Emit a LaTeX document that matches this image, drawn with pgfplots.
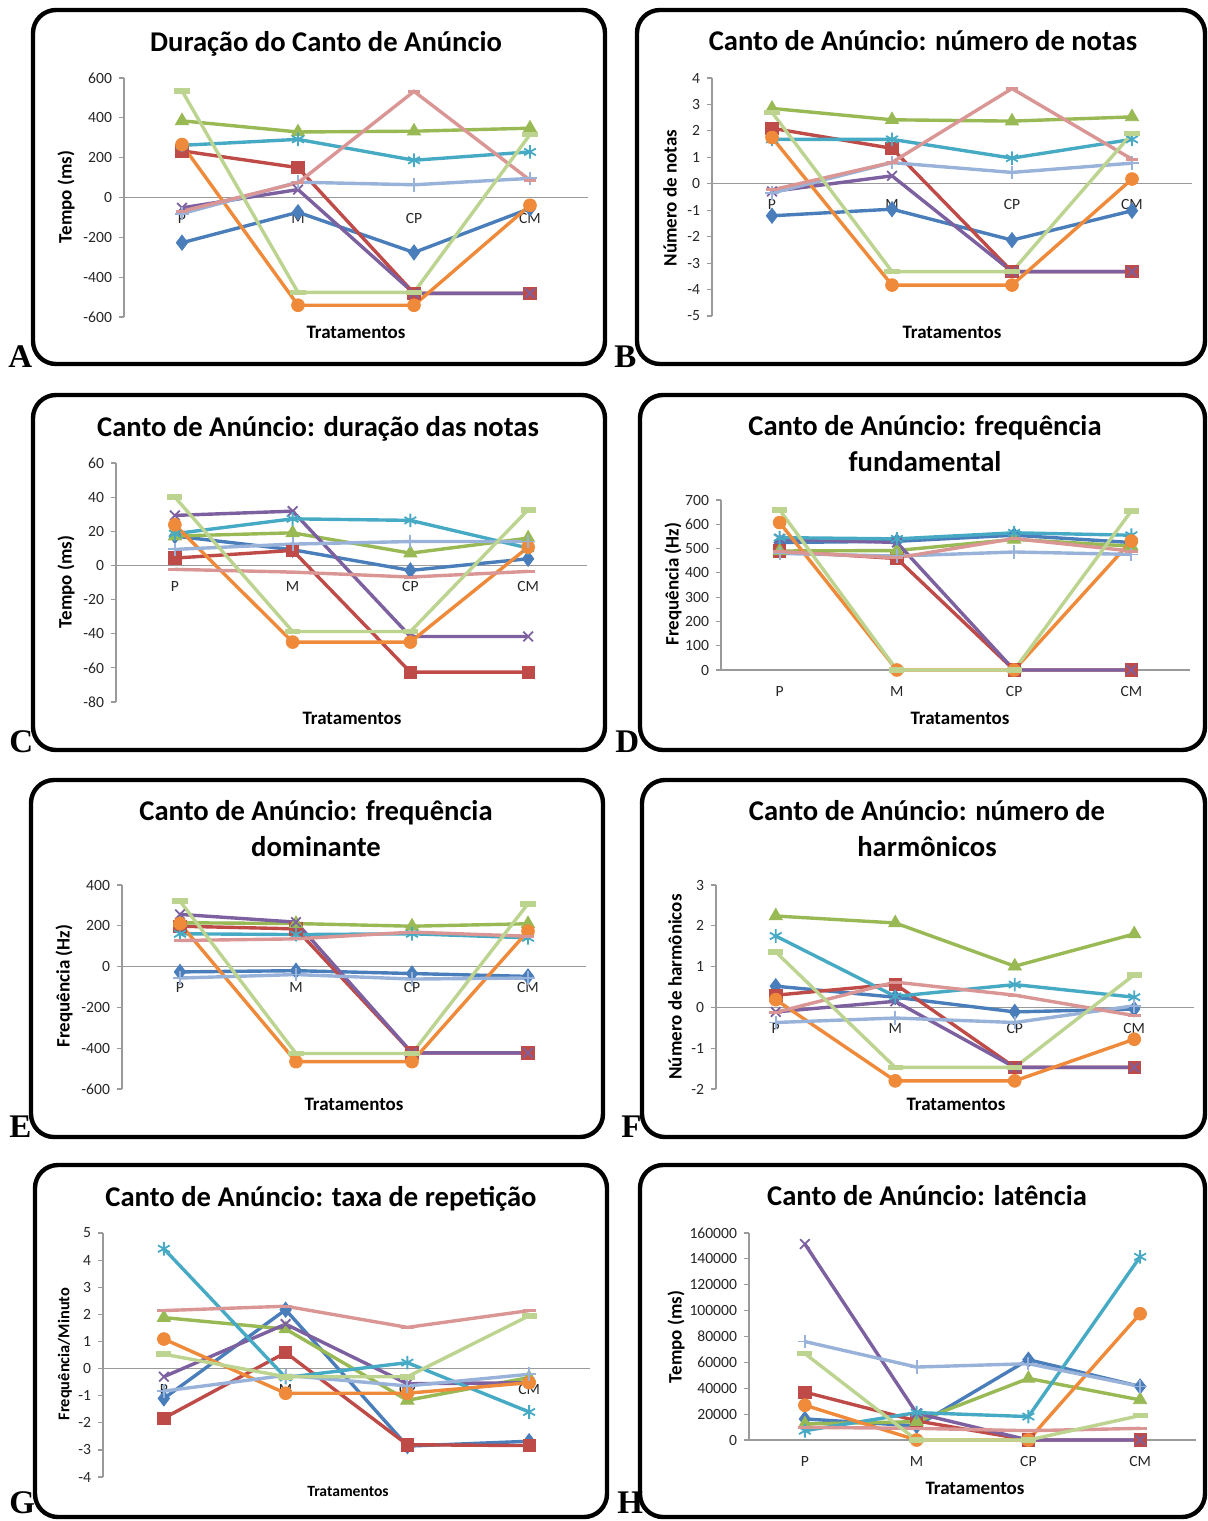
\documentclass[border=0pt]{standalone}
\usepackage{fontspec}
\setmainfont{Carlito}
\newfontfamily\letterfont{Liberation Serif}
\usepackage{pgfplots}
\usepackage{pgfplotstable}
\pgfplotsset{compat=1.18}

\definecolor{c1}{HTML}{4A7EBB}
\definecolor{c2}{HTML}{BE4B48}
\definecolor{c3}{HTML}{98B954}
\definecolor{c4}{HTML}{7D60A0}
\definecolor{c5}{HTML}{46AAC5}
\definecolor{c6}{HTML}{EE8A3A}
\definecolor{c7}{HTML}{98B2D9}
\definecolor{c8}{HTML}{D99694}
\definecolor{c9}{HTML}{BCD490}
\definecolor{axgray}{HTML}{9A9A9A}

\pgfplotstableread{
x s1 s2 s3 s4 s5 s6 s7 s8 s9
0 -227 234 385 -52 262 266 -81 -69 536
1 -74 150 329 40 292 -541 77 74 -476
2 -276 -481 333 -481 187 -541 64 533 -476
3 -55 -481 348 -481 229 -39 96 87 316
}\tabA
\pgfplotstableread{
x s1 s2 s3 s4 s5 s6 s7 s8 s9
0 -1.21 2.10 2.85 -0.29 1.68 1.75 -0.35 -0.23 2.70
1 -0.96 1.34 2.42 0.30 1.68 -3.83 0.80 0.81 -3.32
2 -2.13 -3.32 2.37 -3.32 0.97 -3.83 0.43 3.60 -3.32
3 -1.02 -3.32 2.53 -3.32 1.68 0.18 0.78 0.93 1.90
}\tabB
\pgfplotstableread{
x s1 s2 s3 s4 s5 s6 s7 s8 s9
0 17.2 4.3 17.2 29.3 18.6 23.8 9.4 -2.3 40
1 9.2 8.8 19.1 31.8 27.3 -44.9 12.5 -3.9 -38.7
2 -2.9 -62.5 7.2 -41.6 26.4 -44.9 14 -6.8 -38.7
3 3.9 -62.5 16 -41.6 10.2 10.7 14 -3.5 32.6
}\tabC
\pgfplotstableread{
x s1 s2 s3 s4 s5 s6 s7 s8 s9
0 525 490 490 540 545 607 480 487 659
1 530 459 492 525 540 0 469 462 0
2 555 0 538 0 565 0 486 541 0
3 525 0 510 0 555 531 476 490 655
}\tabD
\pgfplotstableread{
x s1 s2 s3 s4 s5 s6 s7 s8 s9
0 -26 198 215 256 161 211 -56 128 321
1 -20 185 211 218 157 -466 -39 136 -426
2 -34 -423 198 -423 161 -466 -61 169 -426
3 -48 -423 210 -423 141 174 -56 149 308
}\tabE
\pgfplotstableread{
x s1 s2 s3 s4 s5 s6 s7 s8 s9
0 0.52 0.30 2.24 -0.11 1.75 0.19 -0.37 -0.12 1.36
1 0.25 0.57 2.07 0.15 0.27 -1.80 -0.26 0.62 -1.47
2 -0.11 -1.47 1.01 -1.47 0.56 -1.80 -0.37 0.30 -1.47
3 -0.04 -1.47 1.80 -1.47 0.25 -0.78 0.04 -0.20 0.80
}\tabF
\pgfplotstableread{
x s1 s2 s3 s4 s5 s6 s7 s8 s9
0 -1.10 -1.83 1.88 -0.30 4.42 1.09 -0.83 2.14 0.53
1 2.17 0.59 1.46 1.64 -0.33 -0.91 -0.25 2.30 -0.30
2 -2.86 -2.81 -1.17 -0.56 0.22 -0.91 -0.64 1.52 -0.30
3 -2.68 -2.84 -0.33 -0.52 -1.60 -0.52 -0.21 2.14 1.95
}\tabG
\pgfplotstableread{
x s1 s2 s3 s4 s5 s6 s7 s8 s9
0 16300 37000 12400 151500 7200 26900 76100 9800 66800
1 10900 14800 14200 20700 21200 0 56400 9000 0
2 62100 0 47600 0 18100 0 59000 7200 0
3 41400 0 31000 0 141600 97600 41400 9000 18900
}\tabH

\pgfplotsset{
  s1/.style={c1, line width=1.7pt, mark=diamond*, mark size=3.8pt, mark options={solid, line width=0.4pt}},
  s2/.style={c2, line width=1.7pt, mark=square*, mark size=3.1pt, mark options={solid, line width=0.4pt}},
  s3/.style={c3, line width=1.7pt, mark=triangle*, mark size=3.8pt, mark options={solid, line width=0.4pt}},
  s4/.style={c4, line width=1.7pt, mark=x, mark size=3.4pt, mark options={solid, line width=0.9pt}},
  s5/.style={c5, line width=1.7pt, mark=asterisk, mark size=3.4pt, mark options={solid, line width=0.9pt}},
  s6/.style={c6, line width=1.7pt, mark=*, mark size=3.2pt, mark options={solid, line width=0.4pt}},
  s7/.style={c7, line width=1.7pt, mark=+, mark size=3.4pt, mark options={solid, line width=0.9pt}},
  s8/.style={c8, line width=1.7pt, mark=-, mark size=3.2pt, mark options={solid, line width=1.5pt}},
  s9/.style={c9, line width=1.7pt, mark=-, mark size=3.8pt, mark options={solid, line width=2.8pt}},
  excel/.style={
    scale only axis, anchor=south west,
    xmin=-0.5, xmax=3.5,
    xtick={0,1,2,3}, xticklabels={P,M,CP,CM},
    axis x line=middle, axis y line=left,
    axis line style={-, draw=axgray, line width=0.6pt},
    tick align=outside,
    x tick style={draw=none},
    y tick style={draw=axgray, line width=0.6pt},
    major tick length=2.5pt,
    tick label style={font=\fontsize{7.8}{9}\selectfont, text=black!85},
    xticklabel style={yshift=-2pt},
    /pgf/number format/assume math mode=true,
    /pgf/number format/fixed,
    /pgf/number format/1000 sep={},
    scaled y ticks=false,
    clip=false,
  },
}

\newcommand{\allseries}[1]{%
  \addplot[s1] table[x=x,y=s1]{#1};
  \addplot[s2] table[x=x,y=s2]{#1};
  \addplot[s3] table[x=x,y=s3]{#1};
  \addplot[s4] table[x=x,y=s4]{#1};
  \addplot[s5] table[x=x,y=s5]{#1};
  \addplot[s6] table[x=x,y=s6]{#1};
  \addplot[s7] table[x=x,y=s7]{#1};
  \addplot[s8] table[x=x,y=s8]{#1};
  \addplot[s9] table[x=x,y=s9]{#1};
}

\begin{document}
\begin{tikzpicture}
\begin{scope}[x=0.5pt,y=-0.5pt]
\path[use as bounding box] (0,0) rectangle (1208,1521);
% panel boxes
\tikzset{panel/.style={draw=black, line width=2.2pt, rounded corners=11.5pt}}
\draw[panel] (33,10) rectangle (605,364);
\draw[panel] (637,10) rectangle (1205,364);
\draw[panel] (33,395) rectangle (605,750);
\draw[panel] (640,395) rectangle (1205,750);
\draw[panel] (31,780) rectangle (603,1137);
\draw[panel] (642,780) rectangle (1205,1137);
\draw[panel] (35,1165) rectangle (607,1517);
\draw[panel] (640,1165) rectangle (1205,1517);
% letters
\tikzset{let/.style={anchor=base west, inner sep=0pt, font=\letterfont\bfseries\fontsize{16.5}{18}\selectfont}}
\node[let] at (8,367) {A};
\node[let] at (614,367) {B};
\node[let] at (9,752) {C};
\node[let] at (615,752) {D};
\node[let] at (9,1137) {E};
\node[let] at (621,1137) {F};
\node[let] at (9,1513) {G};
\node[let] at (617,1513) {H};
% titles
\tikzset{ttl/.style={anchor=center, align=center, font=\bfseries\fontsize{14.3}{18}\selectfont}}
\node[ttl] at (326,44) {Duração do Canto de Anúncio};
\node[ttl] at (923,41) {Canto de Anúncio: número de notas};
\node[ttl] at (318,429) {Canto de Anúncio: duração das notas};
\node[ttl] at (925,444) {Canto de Anúncio: frequência\\fundamental};
\node[ttl] at (316,829) {Canto de Anúncio: frequência\\dominante};
\node[ttl] at (927,829) {Canto de Anúncio: número de\\harmônicos};
\node[ttl] at (321,1199) {Canto de Anúncio: taxa de repetição};
\node[ttl] at (927,1196) {Canto de Anúncio: latência};
% x labels
\tikzset{xl/.style={anchor=center, font=\bfseries\fontsize{9.5}{11}\selectfont}}
\node[xl] at (356,332) {Tratamentos};
\node[xl] at (952,332) {Tratamentos};
\node[xl] at (352,718) {Tratamentos};
\node[xl] at (960,718) {Tratamentos};
\node[xl] at (354,1104) {Tratamentos};
\node[xl] at (956,1104) {Tratamentos};
\node[xl, font=\bfseries\fontsize{7.8}{9}\selectfont] at (348,1491) {Tratamentos};
\node[xl] at (975,1488) {Tratamentos};
% y labels
\tikzset{yl/.style={anchor=center, rotate=90, font=\bfseries\fontsize{9.5}{11}\selectfont}}
\node[yl] at (66,197) {Tempo (ms)};
\node[yl] at (670,198) {Número de notas};
\node[yl] at (66,582) {Tempo (ms)};
\node[yl] at (673,584) {Frequência (Hz)};
\node[yl] at (64,986) {Frequência (Hz)};
\node[yl] at (675,987) {Número de harmônicos};
\node[yl, font=\bfseries\fontsize{8.2}{10}\selectfont] at (65,1354) {Frequência/Minuto};
\node[yl] at (676,1337) {Tempo (ms)};
\end{scope}

% A
\begin{axis}[excel, at={(62pt,-158.5pt)}, width=232pt, height=119.5pt,
  ymin=-600, ymax=600, ytick={-600,-400,...,600}]
\allseries{\tabA}
\end{axis}
% B
\begin{axis}[excel, at={(356pt,-158pt)}, width=240pt, height=119pt,
  ymin=-5, ymax=4, ytick={-5,-4,...,4}]
\allseries{\tabB}
\end{axis}
% C
\begin{axis}[excel, at={(58pt,-351pt)}, width=235.5pt, height=119.5pt,
  ymin=-80, ymax=60, ytick={-80,-60,...,60}]
\allseries{\tabC}
\end{axis}
% D
\begin{axis}[excel, at={(360.5pt,-335pt)}, width=234.5pt, height=85pt,
  ymin=0, ymax=700, ytick={0,100,...,700}]
\allseries{\tabD}
\end{axis}
% E
\begin{axis}[excel, at={(61pt,-544.5pt)}, width=232pt, height=102pt,
  ymin=-600, ymax=400, ytick={-600,-400,...,400}]
\allseries{\tabE}
\end{axis}
% F
\begin{axis}[excel, at={(358pt,-544.5pt)}, width=239pt, height=102pt,
  ymin=-2, ymax=3, ytick={-2,-1,...,3}]
\allseries{\tabF}
\end{axis}
% G
\begin{axis}[excel, at={(51.5pt,-738.5pt)}, width=243.5pt, height=122pt,
  ymin=-4, ymax=5, ytick={-4,-3,...,5}]
\allseries{\tabG}
\end{axis}
% H
\begin{axis}[excel, at={(374.5pt,-720pt)}, width=223.5pt, height=103.5pt,
  ymin=0, ymax=160000, ytick={0,20000,...,160000}]
\allseries{\tabH}
\end{axis}
\end{tikzpicture}
\end{document}
